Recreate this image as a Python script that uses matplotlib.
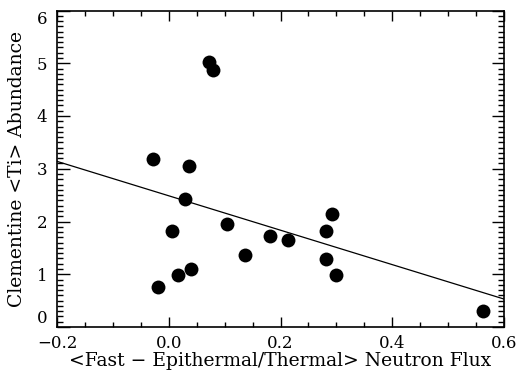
import matplotlib
matplotlib.use("Agg")
import matplotlib.pyplot as plt
import numpy as np
from matplotlib.ticker import MultipleLocator, FuncFormatter

x_flux = [-0.028, -0.019, 0.006, 0.017, 0.029, 0.036, 0.040, 0.072, 0.079,
          0.104, 0.136, 0.181, 0.213, 0.281, 0.292, 0.281, 0.299, 0.562]
y_ti = [3.18, 0.76, 1.82, 0.98, 2.42, 3.05, 1.10, 5.02, 4.88,
        1.95, 1.36, 1.72, 1.65, 1.82, 2.14, 1.29, 0.98, 0.30]
fit_x = [-0.2, 0.6]
fit_y = [3.14, 0.53]

plt.rcParams['font.family'] = ['DejaVu Serif']
fig = plt.figure(figsize=(5.19, 3.84), dpi=100)
ax = fig.add_axes([57/519, 1-327/384, (504-57)/519, (327-10.5)/384])

ax.scatter(x_flux, y_ti, s=100, color='black', zorder=3, linewidths=0)
ax.plot(fit_x, fit_y, color='black', lw=0.9)

ax.set_xlim(-0.2, 0.6)
ax.set_ylim(0, 6)
ax.xaxis.set_major_locator(MultipleLocator(0.2))
ax.xaxis.set_minor_locator(MultipleLocator(0.05))
ax.yaxis.set_major_locator(MultipleLocator(1))
ax.yaxis.set_minor_locator(MultipleLocator(0.1))
ax.xaxis.set_major_formatter(FuncFormatter(lambda v, p: f"{v:.1f}".replace('-', '\u2212')))
ax.yaxis.set_major_formatter(FuncFormatter(lambda v, p: f"{v:.0f}"))
ax.tick_params(which='both', direction='in', top=True, right=True, width=1.0, labelsize=12)
ax.tick_params(axis='x', which='major', length=7, pad=6)
ax.tick_params(axis='x', which='minor', length=3.5)
ax.tick_params(axis='y', which='major', length=9, pad=7)
ax.tick_params(axis='y', which='minor', length=4.5)
for s in ax.spines.values():
    s.set_linewidth(1.2)

ax.set_xlabel('<Fast \u2212 Epithermal/Thermal> Neutron Flux', fontsize=13.5)
ax.set_ylabel('Clementine <Ti> Abundance', fontsize=13.5)
ax.xaxis.set_label_coords(0.5, -0.08)
ax.yaxis.set_label_coords(-0.07, 0.5)

fig.canvas.draw()
for t in ax.yaxis.get_major_ticks():
    loc = t.get_loc()
    if abs(loc - 0) < 1e-9:
        t.label1.set_verticalalignment('bottom')
    elif abs(loc - 6) < 1e-9:
        t.label1.set_verticalalignment('top')

fig.savefig('out.png', dpi=100)
